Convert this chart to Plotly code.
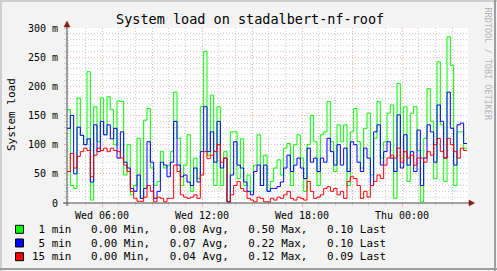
import plotly.graph_objects as go

# ---------------- data (values in milli-load) ----------------
start_hour = 3.9      # Wed 03:54
step_hour = 0.2       # 12 minute consolidation steps

load_1min = [160, 30, 25, 180, 116, 100, 225, 5, 165, 105, 180, 117, 182, 160, 100, 175, 174, 48, 100, 14,
             30, 111, 8, 142, 162, 60, 30, 37, 88, 60, 65, 88, 190, 111, 30, 65, 117, 20, 77, 42,
             165, 260, 82, 185, 30, 165, 30, 88, 0, 122, 122, 42, 110, 30, 48, 20, 65, 117, 30, 82,
             20, 37, 60, 74, 48, 94, 102, 30, 100, 117, 77, 20, 100, 150, 105, 30, 117, 122, 174, 105,
             54, 134, 105, 134, 30, 122, 162, 105, 60, 128, 154, 48, 111, 174, 77, 105, 154, 168, 8, 205,
             77, 165, 37, 154, 165, 90, 2, 111, 196, 140, 42, 242, 134, 37, 285, 236, 30, 122, 122, 94]
load_5min = [128, 150, 50, 130, 116, 100, 110, 36, 134, 88, 140, 117, 134, 110, 128, 77, 122, 70, 60, 25,
             20, 48, 8, 25, 105, 70, 8, 20, 70, 65, 45, 70, 140, 65, 45, 48, 36, 30, 60, 36,
             88, 165, 88, 122, 70, 140, 60, 77, 2, 48, 105, 65, 60, 36, 20, 14, 54, 65, 30, 65,
             20, 25, 25, 28, 36, 60, 82, 54, 65, 77, 60, 42, 94, 70, 77, 54, 77, 70, 111, 88,
             65, 100, 65, 94, 54, 105, 100, 70, 54, 94, 77, 30, 122, 134, 65, 88, 105, 77, 54, 151,
             60, 117, 65, 88, 54, 125, 30, 77, 134, 122, 70, 168, 140, 77, 190, 128, 65, 134, 137, 102]
load_15min = [54, 85, 60, 80, 88, 94, 90, 45, 82, 94, 90, 94, 88, 94, 90, 88, 77, 65, 54, 20,
              8, 3, 3, 10, 30, 20, 2, 10, 8, 2, 8, 8, 65, 54, 14, 10, 8, 10, 14, 8,
              48, 88, 76, 82, 88, 100, 70, 77, 2, 14, 30, 37, 25, 20, 8, 5, 2, 10, 8, 2,
              2, 8, 5, 10, 8, 14, 20, 8, 5, 10, 8, 5, 37, 20, 8, 10, 14, 25, 28, 20,
              25, 14, 20, 8, 37, 45, 42, 30, 8, 20, 10, 30, 37, 48, 42, 65, 77, 82, 77, 94,
              70, 88, 77, 82, 65, 77, 77, 70, 88, 82, 100, 111, 88, 77, 111, 100, 88, 77, 94, 90]

series_names = ["1 min", "5 min", "15 min"]
series_colors = ["#00FF00", "#0000FF", "#FF0000"]
stat_min = [0.00, 0.00, 0.00]
stat_avg = [0.08, 0.07, 0.04]
stat_max = [0.50, 0.22, 0.12]
stat_last = [0.10, 0.10, 0.09]

x_tick_hours = [6, 9, 12, 15, 18, 21, 24, 27]
x_tick_labels = ["Wed 06:00", "", "Wed 12:00", "", "Wed 18:00", "", "Thu 00:00", ""]
y_tick_vals = [0, 50, 100, 150, 200, 250, 300]
y_tick_labels = ["0", "50 m", "100 m", "150 m", "200 m", "250 m", "300 m"]

title_text = "System load on stadalbert-nf-roof"
y_title = "System load"
watermark = "RRDTOOL / TOBI OETIKER"

# ---------------- layout geometry ----------------
W, H = 497, 271
L, R, T, B = 67, 29, 28, 68
PW, PH = W - L - R, H - T - B
MONO = "DejaVu Sans Mono"


def px(xp):
    return (xp - L) / PW


def py(yp):
    return (H - B - yp) / PH


n = len(load_1min)
times = [start_hour + step_hour * i for i in range(n + 1)]
x_end = start_hour + 24.06

fig = go.Figure()
for vals, name, col in zip([load_1min, load_5min, load_15min], series_names, series_colors):
    fig.add_trace(go.Scatter(
        x=times, y=list(vals) + [vals[-1]], mode="lines", name=name,
        line=dict(color=col, width=1, shape="hv"), showlegend=False, hoverinfo="skip"))

minor_grid = "#CFCFCF"
major_grid = "#F5B0B0"

fig.update_layout(
    width=W, height=H,
    margin=dict(l=L, r=R, t=T, b=B, pad=0),
    paper_bgcolor="#F3F3F3", plot_bgcolor="#FFFFFF",
    font=dict(family=MONO, size=10, color="#000000"),
    xaxis=dict(
        range=[start_hour, x_end], tickmode="array", tickvals=x_tick_hours, ticktext=x_tick_labels,
        showgrid=True, gridcolor=major_grid, griddash="1px,2px", gridwidth=1,
        ticks="outside", ticklen=3, tickcolor=major_grid, tickwidth=1,
        tickfont=dict(family=MONO, size=10, color="#000000"),
        zeroline=False, showline=False, fixedrange=True,
        minor=dict(tickmode="array", tickvals=list(range(4, 28)), showgrid=True,
                   gridcolor=minor_grid, griddash="1px,2px", gridwidth=1,
                   ticks="outside", ticklen=2, tickcolor=minor_grid),
    ),
    yaxis=dict(
        range=[0, 300], tickmode="array", tickvals=y_tick_vals, ticktext=y_tick_labels,
        showgrid=True, gridcolor=major_grid, griddash="1px,2px", gridwidth=1,
        ticks="outside", ticklen=2, tickcolor=major_grid, ticklabelstandoff=4,
        tickfont=dict(family=MONO, size=10, color="#000000"),
        zeroline=False, showline=False, fixedrange=True,
        minor=dict(dtick=10, tick0=0, showgrid=True, gridcolor=minor_grid,
                   griddash="1px,2px", gridwidth=1, ticks="outside", ticklen=2, tickcolor=minor_grid),
    ),
)

shapes = []
# outer 3D border
shapes.append(dict(type="line", xref="paper", yref="paper", x0=px(0), x1=px(W), y0=py(1), y1=py(1),
                   line=dict(color="#CFCFCF", width=2)))
shapes.append(dict(type="line", xref="paper", yref="paper", x0=px(1), x1=px(1), y0=py(0), y1=py(H),
                   line=dict(color="#CFCFCF", width=2)))
shapes.append(dict(type="line", xref="paper", yref="paper", x0=px(W - 2), x1=px(W - 2), y0=py(0), y1=py(H),
                   line=dict(color="#9E9E9E", width=2)))
shapes.append(dict(type="line", xref="paper", yref="paper", x0=px(0), x1=px(W), y0=py(H - 2), y1=py(H - 2),
                   line=dict(color="#9E9E9E", width=2)))
# axes with arrows
axis_col = "#4A4A4A"
arrow_col = "#8B1A1A"
shapes.append(dict(type="line", xref="paper", yref="paper", x0=px(63), x1=px(470), y0=0, y1=0,
                   line=dict(color=axis_col, width=1), layer="above"))
shapes.append(dict(type="line", xref="paper", yref="paper", x0=0, x1=0, y0=py(206), y1=py(24),
                   line=dict(color=axis_col, width=1), layer="above"))
shapes.append(dict(type="path", xref="paper", yref="paper", layer="above",
                   path=f"M {px(469)} {py(200)} L {px(474.5)} {py(203)} L {px(469)} {py(206)} Z",
                   fillcolor=arrow_col, line=dict(color=arrow_col, width=0.5)))
shapes.append(dict(type="path", xref="paper", yref="paper", layer="above",
                   path=f"M {px(64)} {py(27)} L {px(67)} {py(21)} L {px(70)} {py(27)} Z",
                   fillcolor=arrow_col, line=dict(color=arrow_col, width=0.5)))
# legend colour boxes
row_y = [229.3, 243.0, 256.7]
for yc, col in zip(row_y, series_colors):
    shapes.append(dict(type="rect", xref="paper", yref="paper",
                       x0=px(15.5), x1=px(23.5), y0=py(yc - 4), y1=py(yc + 4),
                       fillcolor=col, line=dict(color="#000000", width=1)))
fig.update_layout(shapes=shapes)

ann = []
ann.append(dict(text=title_text, xref="paper", yref="paper", x=px(250), y=py(19),
                xanchor="center", yanchor="middle", showarrow=False,
                font=dict(family=MONO, size=13.5, color="#000000")))
ann.append(dict(text=y_title, xref="paper", yref="paper", x=px(11), y=py(115),
                xanchor="center", yanchor="middle", showarrow=False, textangle=-90,
                font=dict(family=MONO, size=11, color="#000000")))
ann.append(dict(text=watermark, xref="paper", yref="paper", x=px(487.5), y=py(64),
                xanchor="center", yanchor="middle", showarrow=False, textangle=90,
                font=dict(family=MONO, size=8.5, color="#B4B4B4")))
for i, yc in enumerate(row_y):
    line = (f"{series_names[i]:>6}   {stat_min[i]:.2f} Min,   {stat_avg[i]:.2f} Avg,   "
            f"{stat_max[i]:.2f} Max,   {stat_last[i]:.2f} Last").replace(" ", "\u00a0")
    ann.append(dict(text=line, xref="paper", yref="paper", x=px(30), y=py(yc),
                    xanchor="left", yanchor="middle", showarrow=False,
                    font=dict(family=MONO, size=10.9, color="#000000")))
fig.update_layout(annotations=ann)

fig.write_html("out.html")
